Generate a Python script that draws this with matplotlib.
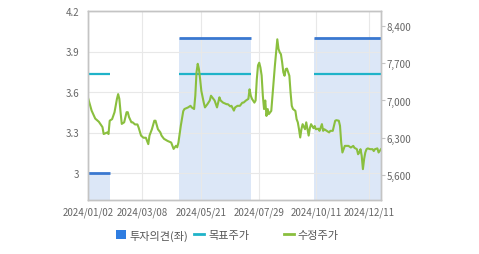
import matplotlib
matplotlib.use("Agg")
import matplotlib.pyplot as plt
from matplotlib.patches import Patch
from matplotlib.lines import Line2D
from matplotlib.ticker import FuncFormatter

plt.rcParams['font.family'] = ['Noto Sans CJK KR', 'DejaVu Sans']

# trading-day index on the x axis
n_days = 244
tick_days = [0, 45, 94, 142, 189, 233]
tick_labels = ['2024/01/02', '2024/03/08', '2024/05/21', '2024/07/29', '2024/10/11', '2024/12/11']

# investment opinion (left axis)
opinion_start = [0, 75.5, 187.5]
opinion_end = [18, 135, 243]
opinion_value = [3.0, 4.0, 4.0]

# target price (right axis)
target_start = [0, 75.5, 187.5]
target_end = [18, 135, 243]
target_value = [7500, 7500, 7500]

# adjusted price (right axis)
price_days = [0, 3, 6, 9, 12, 13, 16, 17, 18, 20, 22, 24, 25, 26, 27, 28, 30, 32, 33, 34,
              36, 37, 39, 41, 42, 44, 46, 48, 50, 51, 53, 55, 56, 58, 60, 61, 63, 66, 67, 69,
              70, 71, 73, 74, 75, 77, 79, 80, 83, 85, 86, 88, 89, 90, 91, 92, 93, 94, 96, 97,
              99, 101, 102, 104, 105, 107, 109, 110, 112, 115, 116, 118, 119, 121, 122, 124, 126, 128, 129, 131,
              133, 134, 135, 136, 138, 139, 140, 141, 142, 143, 144, 145, 146, 147, 148, 149, 150, 151, 152, 153,
              154, 155, 156, 157, 158, 159, 160, 161, 162, 163, 164, 165, 167, 168, 169, 170, 172, 173, 174, 175,
              176, 177, 178, 180, 181, 182, 183, 184, 185, 187, 188, 189, 191, 192, 194, 195, 196, 198, 200, 201,
              203, 205, 206, 208, 209, 210, 211, 212, 213, 215, 216, 218, 220, 221, 223, 224, 225, 226, 227, 228,
              229, 230, 231, 232, 234, 236, 237, 238, 240, 241, 243]
price_vals = [7050, 6810, 6660, 6600, 6500, 6370, 6400, 6370, 6620, 6650, 6780, 7030, 7120, 7030, 6780, 6560, 6590, 6780, 6780, 6690,
              6590, 6590, 6550, 6550, 6490, 6340, 6300, 6300, 6180, 6340, 6460, 6620, 6620, 6460, 6400, 6340, 6280, 6240, 6230, 6210,
              6150, 6090, 6150, 6120, 6210, 6530, 6800, 6840, 6870, 6900, 6870, 6840, 7090, 7530, 7690, 7590, 7400, 7180, 6960, 6870,
              6930, 7000, 7090, 7030, 7000, 6870, 7060, 7000, 6960, 6930, 6930, 6890, 6900, 6810, 6870, 6900, 6900, 6960, 6960, 7000,
              7030, 7210, 7090, 7030, 6960, 7000, 7400, 7660, 7710, 7620, 7470, 7090, 6840, 7000, 6710, 6840, 6745, 6775, 6805, 7090,
              7400, 7655, 7905, 8150, 7970, 7905, 7870, 7720, 7530, 7465, 7590, 7600, 7465, 7150, 6900, 6840, 6805, 6650, 6590, 6460,
              6305, 6460, 6555, 6460, 6590, 6460, 6340, 6480, 6555, 6480, 6520, 6460, 6470, 6430, 6556, 6430, 6460, 6430, 6400, 6430,
              6430, 6620, 6630, 6620, 6525, 6210, 6023, 6085, 6147, 6147, 6147, 6116, 6147, 6110, 6085, 5990, 6023, 6085, 5960, 5710,
              5900, 6023, 6085, 6100, 6085, 6085, 6050, 6085, 6100, 6023, 6085]

left_ticks = [3.0, 3.3, 3.6, 3.9, 4.2]
right_ticks = [5600, 6300, 7000, 7700, 8400]

opinion_color = '#3a78d0'
fill_color = '#dce7f7'
target_color = '#1fb3c9'
price_color = '#8abf3e'
frame_color = '#c4c4c4'
grid_color = '#e8e8e8'
text_color = '#666666'

fig = plt.figure(figsize=(4.79, 2.55), dpi=100)
ax = fig.add_axes([88 / 479, 1 - 201 / 255, 293 / 479, 189 / 255])
ax2 = ax.twinx()

for s, e, v in zip(opinion_start, opinion_end, opinion_value):
    ax.fill_between([s, e], [v, v], 2.8, color=fill_color, linewidth=0, zorder=0.2)
    ax.plot([s, e], [v, v], color=opinion_color, linewidth=2, solid_capstyle='butt', zorder=2)

for s, e, v in zip(target_start, target_end, target_value):
    ax2.plot([s, e], [v, v], color=target_color, linewidth=1.6, solid_capstyle='butt')

ax2.plot(price_days, price_vals, color=price_color, linewidth=1.5)

ax.set_xlim(0, n_days - 1)
ax.set_ylim(2.8, 4.2)
ax2.set_ylim(5130, 8682)

ax.set_xticks(tick_days)
ax.set_xticklabels(tick_labels)
ax.set_yticks(left_ticks)
ax.yaxis.set_major_formatter(FuncFormatter(lambda v, p: '%g' % round(v, 1)))
ax2.set_yticks(right_ticks)
ax2.yaxis.set_major_formatter(FuncFormatter(lambda v, p: '{:,.0f}'.format(v)))

ax.grid(True, color=grid_color, linewidth=0.8)
ax.set_axisbelow(True)

ax.tick_params(axis='y', length=0, labelsize=7, labelcolor=text_color, pad=6)
ax.tick_params(axis='x', length=0, labelsize=7, labelcolor=text_color, pad=5)
ax2.tick_params(axis='y', length=3, width=0.8, color=frame_color, labelsize=7,
                labelcolor=text_color, pad=1)

for a in (ax, ax2):
    for sp in a.spines.values():
        sp.set_color(frame_color)
        sp.set_linewidth(1)

leg_kw = dict(frameon=False, fontsize=8, handlelength=0.9, handleheight=0.9,
              handletextpad=0.35, columnspacing=0.5, labelcolor='#555555',
              borderaxespad=0, borderpad=0)
h1 = [Patch(facecolor='#2f7de1', edgecolor='none'),
      Line2D([0], [0], color=target_color, linewidth=2)]
leg1 = fig.legend(h1, ['투자의견(좌)', '목표주가'], loc='center left',
                  bbox_to_anchor=(116 / 479, 1 - 236 / 255), ncol=2, **leg_kw)
h2 = [Line2D([0], [0], color=price_color, linewidth=2)]
fig.legend(h2, ['수정주가'], loc='center left',
           bbox_to_anchor=(284 / 479, 1 - 236 / 255), ncol=1, **leg_kw)

fig.savefig('out.png', dpi=100)
